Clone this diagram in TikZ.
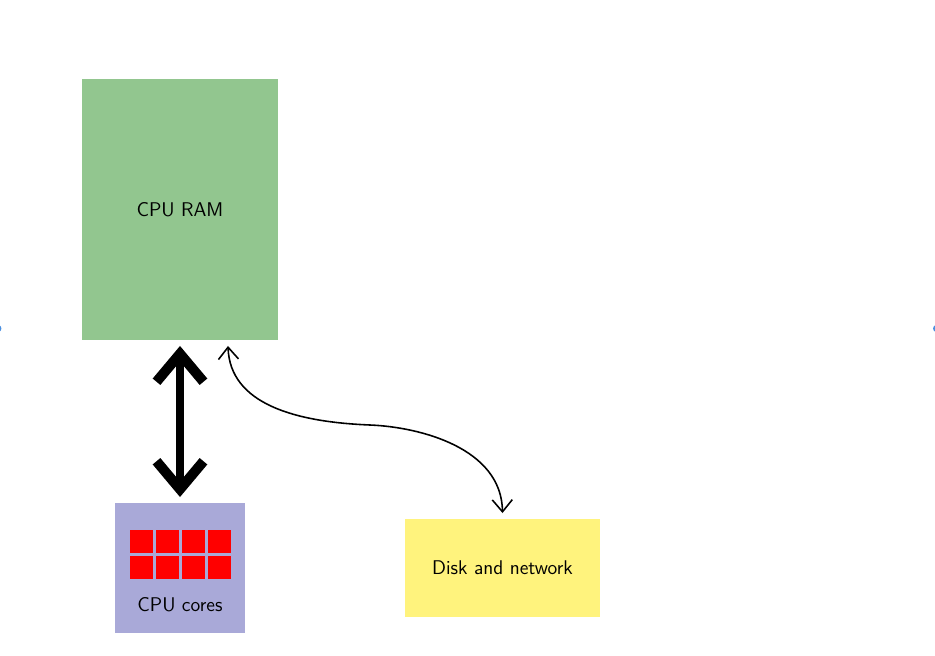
\documentclass[tikz,border=0pt]{standalone}
\usetikzlibrary{arrows.meta}

\definecolor{ramgreen}{HTML}{92C68F}
\definecolor{corepurple}{HTML}{A9A9D8}
\definecolor{diskyellow}{HTML}{FFF37D}
\definecolor{handleblue}{HTML}{4A8FE0}

\tikzset{
	block/.style={inner sep=0pt, outer sep=0.12cm, font=\sffamily\fontsize{11.3}{13}\selectfont},
	corecell/.style={fill=red, inner sep=0pt, minimum size=0.46cm},
	handle/.style={fill=handleblue, circle, inner sep=0pt, minimum size=0.14cm},
	fatbarb/.style={{Straight Barb[length=0.56cm,width=0.94cm,line width=0.2cm]}-{Straight Barb[length=0.56cm,width=0.94cm,line width=0.2cm]}, line width=0.16cm},
	thinbarb/.style={{Straight Barb[length=0.24cm,width=0.4cm]}-{Straight Barb[length=0.24cm,width=0.4cm]}, line width=0.9pt},
}

\begin{document}
\begin{tikzpicture}[x=0.02cm, y=-0.02cm]
			\useasboundingbox (0,0) rectangle (935,655);
			\node[block, fill=ramgreen, minimum width=3.92cm, minimum height=5.22cm] at(180,209.5) (ram) {CPU RAM};
			\node[block, fill=corepurple, minimum size=2.6cm] at(180,568) (cores) {};
			\node[block, fill=diskyellow, minimum width=3.9cm, minimum height=1.96cm] at(502.5,568) (disk) {\raisebox{-1pt}{Disk and network}};
			\node[block, outer sep=0pt] at(180,605) (coreslabel) {CPU cores};

			\foreach \col in {0,1,2,3}
				\foreach \row in {0,1}
					\node[corecell] at(141.2+26.1*\col,541.5+26.2*\row) (cell\col\row) {};

			\coordinate (bend) at(370,425);
			\draw[fatbarb] (ram) -- (cores);
			\draw[thinbarb] ([xshift=0.96cm]ram.south) .. controls +(2,58) and +(-75,-3) .. (bend) .. controls +(50,2) and +(-1,-65) .. (disk.north);

			\node[handle] at(-2,328.5) (handleleft) {};
			\node[handle] at(936.5,328.5) (handleright) {};
			\end{tikzpicture}
\end{document}
